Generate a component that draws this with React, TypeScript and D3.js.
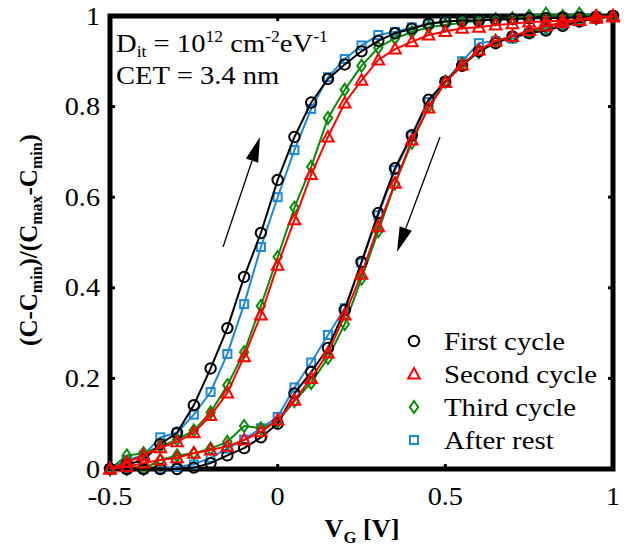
import React from "react";
import * as d3 from "d3";

// Gate voltage sweep points (V)
const vg = [
  -0.5, -0.45, -0.4, -0.35, -0.3, -0.25, -0.2, -0.15, -0.1, -0.05, 0, 0.05, 0.1, 0.15, 0.2, 0.25,
  0.3, 0.35, 0.4, 0.45, 0.5, 0.55, 0.6, 0.65, 0.7, 0.75, 0.8, 0.85, 0.9, 0.95, 1.0,
];

// Normalised capacitance, forward (up) sweep, indexed like vg
const firstUp = [
  0, 0.01, 0.02, 0.055, 0.08, 0.141, 0.222, 0.311, 0.424, 0.521, 0.638, 0.733, 0.809, 0.861, 0.893,
  0.922, 0.945, 0.962, 0.972, 0.983, 0.988, 0.99, 0.99, 0.992, 0.993, 0.995, 0.995, 0.996, 0.997,
  0.998, 1.0,
];
const secondUp = [
  0, 0.015, 0.03, 0.047, 0.06, 0.08, 0.118, 0.168, 0.248, 0.34, 0.45, 0.55, 0.65, 0.733, 0.808,
  0.858, 0.903, 0.927, 0.943, 0.958, 0.966, 0.973, 0.975, 0.98, 0.983, 0.987, 0.988, 0.99, 0.99,
  1.0, 0.998,
];
const thirdUp = [
  0, 0.03, 0.035, 0.05, 0.065, 0.085, 0.125, 0.185, 0.258, 0.36, 0.468, 0.577, 0.667, 0.775, 0.837,
  0.89, 0.93, 0.951, 0.964, 0.975, 0.98, 0.985, 0.99, 0.993, 0.995, 1.0, 1.005, 1.0, 1.005, 1.0,
  1.0,
];
const restUp = [
  0, 0.02, 0.03, 0.07, 0.08, 0.12, 0.17, 0.254, 0.364, 0.49, 0.6, 0.704, 0.795, 0.865, 0.905, 0.935,
  0.958, 0.965, 0.975, 0.982, 0.988, 0.99, 0.99, 0.992, 0.993, 0.995, 0.996, 0.997, 0.998, 0.999,
  1.0,
];

// Normalised capacitance, reverse (down) sweep, indexed like vg
const firstDown = [
  0, 0, 0, 0, 0, 0.003, 0.013, 0.03, 0.046, 0.07, 0.1, 0.167, 0.214, 0.267, 0.351, 0.457, 0.565,
  0.664, 0.737, 0.815, 0.855, 0.89, 0.922, 0.94, 0.955, 0.962, 0.968, 0.978, 0.988, 0.995, 1.0,
];
const secondDown = [
  0, 0.005, 0.013, 0.02, 0.025, 0.035, 0.042, 0.05, 0.064, 0.082, 0.108, 0.152, 0.2, 0.256, 0.34,
  0.43, 0.535, 0.631, 0.726, 0.797, 0.853, 0.892, 0.925, 0.945, 0.955, 0.968, 0.978, 0.985, 0.99,
  0.995, 1.0,
];
const thirdDown = [
  0, 0, 0, 0.02, 0.03, 0.035, 0.045, 0.06, 0.095, 0.09, 0.105, 0.15, 0.19, 0.245, 0.32, 0.42,
  0.525, 0.63, 0.72, 0.8, 0.855, 0.895, 0.92, 0.945, 0.955, 0.965, 0.975, 0.985, 0.99, 0.995, 1.0,
];
const restDown = [
  0, 0, 0, 0, 0.005, 0.01, 0.025, 0.045, 0.065, 0.09, 0.115, 0.18, 0.235, 0.296, 0.355, 0.455, 0.56,
  0.66, 0.735, 0.81, 0.855, 0.9, 0.94, 0.945, 0.95, 0.962, 0.97, 0.98, 0.988, 0.995, 1.0,
];

const seriesNames = ["First cycle", "Second cycle", "Third cycle", "After rest"];
const xTicks = [-0.5, 0, 0.5, 1];
const xTickLabels = ["-0.5", "0", "0.5", "1"];
const yTicks = [0, 0.2, 0.4, 0.6, 0.8, 1];
const yTickLabels = ["0", "0.2", "0.4", "0.6", "0.8", "1"];

type Shape = "circle" | "triangle" | "diamond" | "square";
interface Series {
  name: string;
  color: string;
  shape: Shape;
  up: number[];
  down: number[];
}

const series: Series[] = [
  { name: seriesNames[0], color: "#000000", shape: "circle", up: firstUp, down: firstDown },
  { name: seriesNames[1], color: "#ff0000", shape: "triangle", up: secondUp, down: secondDown },
  { name: seriesNames[2], color: "#0a8a0a", shape: "diamond", up: thirdUp, down: thirdDown },
  { name: seriesNames[3], color: "#1e88d2", shape: "square", up: restUp, down: restDown },
];
// back-to-front drawing order
const drawOrder = [3, 2, 0, 1];

const W = 628;
const H = 549;
const plot = { left: 110, right: 613, top: 16, bottom: 469 };

const x = d3.scaleLinear().domain([-0.5, 1]).range([plot.left, plot.right]);
const y = d3.scaleLinear().domain([0, 1]).range([plot.bottom, plot.top]);

const serif = '"Liberation Serif", "Times New Roman", Times, "DejaVu Serif", serif';

function Marker({ shape, cx, cy, color }: { shape: Shape; cx: number; cy: number; color: string }) {
  const sw = 2;
  switch (shape) {
    case "circle":
      return <circle cx={cx} cy={cy} r={5.2} fill="none" stroke={color} strokeWidth={sw} />;
    case "triangle":
      return (
        <path
          d={`M${cx},${cy - 6}L${cx + 5.8},${cy + 4.5}L${cx - 5.8},${cy + 4.5}Z`}
          fill="none"
          stroke={color}
          strokeWidth={sw}
        />
      );
    case "diamond":
      return (
        <path
          d={`M${cx},${cy - 6}L${cx + 4.2},${cy}L${cx},${cy + 6}L${cx - 4.2},${cy}Z`}
          fill="none"
          stroke={color}
          strokeWidth={sw}
        />
      );
    default:
      return (
        <rect x={cx - 4} y={cy - 4} width={8} height={8} fill="none" stroke={color} strokeWidth={sw} />
      );
  }
}

// Text stretched horizontally, as in the typeset figure
function SText({
  x: tx,
  y: ty,
  sx = 1.12,
  anchor = "start",
  size,
  weight = "normal",
  children,
}: {
  x: number;
  y: number;
  sx?: number;
  anchor?: "start" | "middle" | "end";
  size: number;
  weight?: string;
  children: React.ReactNode;
}) {
  return (
    <text
      transform={`translate(${tx},${ty}) scale(${sx},1)`}
      textAnchor={anchor}
      style={{ fontFamily: serif, fontSize: `${size}px`, fontWeight: weight as any }}
      fill="#000"
    >
      {children}
    </text>
  );
}

function Arrow({ x1, y1, x2, y2 }: { x1: number; y1: number; x2: number; y2: number }) {
  const len = Math.hypot(x2 - x1, y2 - y1);
  const ux = (x2 - x1) / len;
  const uy = (y2 - y1) / len;
  const hl = 25;
  const hw = 6.5;
  const bx = x2 - ux * hl;
  const by = y2 - uy * hl;
  const head = `M${x2},${y2}L${bx - uy * hw},${by + ux * hw}L${bx + uy * hw},${by - ux * hw}Z`;
  return (
    <g>
      <line x1={x1} y1={y1} x2={bx} y2={by} stroke="#000" strokeWidth={1.3} />
      <path d={head} fill="#000" />
    </g>
  );
}

const subStyle = { fontSize: "16px" };

export default function App() {
  const line = d3
    .line<[number, number]>()
    .x((d) => x(d[0]))
    .y((d) => y(d[1]));

  const loop = (s: Series): [number, number][] => {
    const up = vg.map((v, i) => [v, s.up[i]] as [number, number]);
    const down = vg.map((v, i) => [v, s.down[i]] as [number, number]).reverse();
    return [...up, ...down];
  };

  const tickLen = 5;
  const legendX = 414;
  const legendY0 = 341;
  const legendDy = 33;

  return (
    <svg
      width={W}
      height={H}
      style={{ position: "absolute", left: 0, top: 0, background: "#fff" }}
      xmlns="http://www.w3.org/2000/svg"
    >
      <rect x={0} y={0} width={W} height={H} fill="#fff" />

      {/* frame */}
      <rect
        x={plot.left}
        y={plot.top}
        width={plot.right - plot.left}
        height={plot.bottom - plot.top}
        fill="none"
        stroke="#000"
        strokeWidth={5}
      />

      {/* inward ticks */}
      {xTicks.map((t) => (
        <g key={`xt${t}`}>
          <line x1={x(t)} x2={x(t)} y1={plot.bottom} y2={plot.bottom - tickLen} stroke="#000" strokeWidth={3} />
          <line x1={x(t)} x2={x(t)} y1={plot.top} y2={plot.top + tickLen} stroke="#000" strokeWidth={3} />
        </g>
      ))}
      {yTicks.map((t) => (
        <g key={`yt${t}`}>
          <line x1={plot.left} x2={plot.left + tickLen} y1={y(t)} y2={y(t)} stroke="#000" strokeWidth={3} />
          <line x1={plot.right} x2={plot.right - tickLen} y1={y(t)} y2={y(t)} stroke="#000" strokeWidth={3} />
        </g>
      ))}

      {/* tick labels */}
      {xTicks.map((t, i) => (
        <SText key={`xl${t}`} x={x(t)} y={505} anchor="middle" size={25} sx={1.13}>
          {xTickLabels[i]}
        </SText>
      ))}
      {yTicks.map((t, i) => (
        <SText key={`yl${t}`} x={100} y={y(t) + 8.5} anchor="end" size={25} sx={1.13}>
          {yTickLabels[i]}
        </SText>
      ))}

      {/* sweep direction arrows */}
      <Arrow x1={223} y1={247} x2={260} y2={137} />
      <Arrow x1={440} y1={137} x2={397} y2={252} />

      {/* hysteresis loops */}
      {drawOrder.map((k) => {
        const s = series[k];
        const pts = loop(s);
        return (
          <g key={s.name}>
            <path d={line(pts) ?? ""} fill="none" stroke={s.color} strokeWidth={2} strokeLinejoin="round" />
            {pts.map((p, i) => (
              <Marker key={i} shape={s.shape} cx={x(p[0])} cy={y(p[1])} color={s.color} />
            ))}
          </g>
        );
      })}

      {/* annotation */}
      <SText x={116} y={52} size={26} sx={1.1}>
        D
        <tspan style={subStyle} dy={5}>it</tspan>
        <tspan dy={-5}> = 10</tspan>
        <tspan style={subStyle} dy={-10}>12</tspan>
        <tspan dy={10}> cm</tspan>
        <tspan style={subStyle} dy={-10}>-2</tspan>
        <tspan dy={10}>eV</tspan>
        <tspan style={subStyle} dy={-10}>-1</tspan>
      </SText>
      <SText x={116} y={84} size={26} sx={1.1}>
        CET = 3.4 nm
      </SText>

      {/* legend */}
      {series.map((s, i) => (
        <g key={`lg${s.name}`}>
          <Marker shape={s.shape} cx={legendX} cy={legendY0 + i * legendDy} color={s.color} />
          <SText x={444} y={legendY0 + i * legendDy + 9} size={26} sx={1.11}>
            {s.name}
          </SText>
        </g>
      ))}

      {/* axis titles */}
      <SText x={362} y={537} anchor="middle" size={25} weight="bold" sx={1.05}>
        V
        <tspan style={subStyle} dy={6}>G</tspan>
        <tspan dy={-6}> [V]</tspan>
      </SText>
      <g transform="translate(37,240) rotate(-90)">
        <SText x={0} y={0} anchor="middle" size={25} weight="bold" sx={1.0}>
          (C-C
          <tspan style={subStyle} dy={5}>min</tspan>
          <tspan dy={-5}>)/(C</tspan>
          <tspan style={subStyle} dy={5}>max</tspan>
          <tspan dy={-5}>-C</tspan>
          <tspan style={subStyle} dy={5}>min</tspan>
          <tspan dy={-5}>)</tspan>
        </SText>
      </g>
    </svg>
  );
}
